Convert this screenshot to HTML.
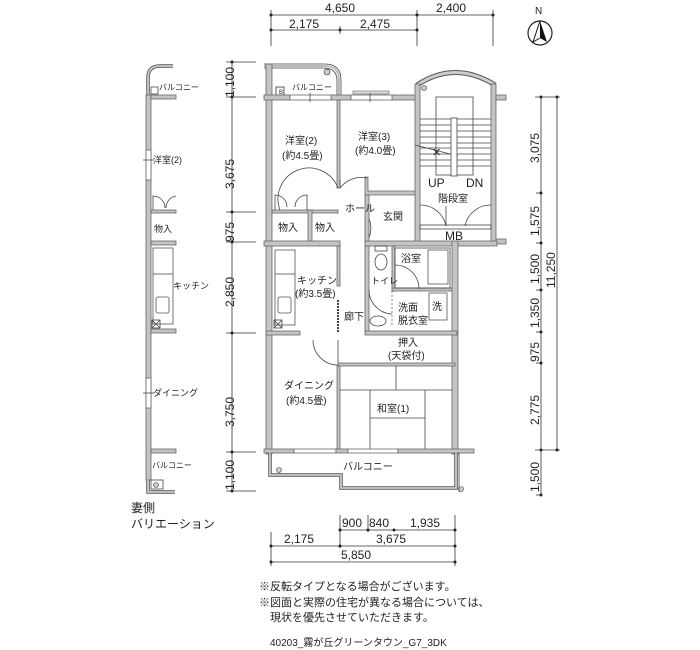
<!DOCTYPE html>
<html><head><meta charset="utf-8"><style>
html,body{margin:0;padding:0;background:#fff}
svg{display:block}
text{font-family:"Liberation Sans","Noto Sans CJK JP",sans-serif;fill:#222}
.w{fill:#c4c4c4;stroke:#666;stroke-width:0.8}
.l{stroke:#444;stroke-width:0.8;fill:none}
.d{stroke:#333;stroke-width:0.8;fill:none}
.j{font-size:10px}
.n{font-size:12px}
</style></head><body>
<svg width="700" height="650" viewBox="0 0 700 650" xmlns="http://www.w3.org/2000/svg">
<!-- top dims -->
<g class="d">
<line x1="271" y1="15" x2="493" y2="15"/><line x1="271" y1="30" x2="417" y2="30"/>
<line x1="271" y1="10" x2="271" y2="46"/><line x1="340" y1="26" x2="340" y2="34"/>
<line x1="417" y1="10" x2="417" y2="46"/><line x1="493" y1="10" x2="493" y2="46"/>
</g>
<g fill="#222"><circle cx="271" cy="15" r="1.5"/><circle cx="417" cy="15" r="1.5"/><circle cx="493" cy="15" r="1.5"/>
<circle cx="271" cy="30" r="1.5"/><circle cx="340" cy="30" r="1.5"/><circle cx="417" cy="30" r="1.5"/></g>
<text class="n" x="325" y="12">4,650</text><text class="n" x="436" y="12">2,400</text>
<text class="n" x="289" y="28">2,175</text><text class="n" x="360" y="28">2,475</text>
<!-- compass -->
<circle cx="540" cy="33" r="12" fill="none" stroke="#222" stroke-width="1.2"/>
<path d="M540 21 L547 42 L540 38 Z" fill="#111"/><path d="M540 21 L533 42 L540 38" fill="none" stroke="#111"/>
<text x="535" y="14" style="font-size:10px">N</text>

<!-- left dims -->
<g class="d"><line x1="232" y1="62" x2="232" y2="491"/>
<line x1="226" y1="62" x2="256" y2="62"/><line x1="226" y1="97" x2="256" y2="97"/><line x1="226" y1="212" x2="256" y2="212"/>
<line x1="226" y1="242" x2="256" y2="242"/><line x1="226" y1="333" x2="256" y2="333"/><line x1="226" y1="452" x2="256" y2="452"/><line x1="226" y1="491" x2="256" y2="491"/></g>
<g fill="#222"><circle cx="232" cy="62" r="1.5"/><circle cx="232" cy="97" r="1.5"/><circle cx="232" cy="212" r="1.5"/><circle cx="232" cy="242" r="1.5"/><circle cx="232" cy="333" r="1.5"/><circle cx="232" cy="452" r="1.5"/><circle cx="232" cy="491" r="1.5"/></g>
<g class="n">
<text transform="translate(234,97) rotate(-90)">1,100</text>
<text transform="translate(234,189) rotate(-90)">3,675</text>
<text transform="translate(234,242) rotate(-90)">975</text>
<text transform="translate(234,307) rotate(-90)">2,850</text>
<text transform="translate(234,427) rotate(-90)">3,750</text>
<text transform="translate(234,490) rotate(-90)">1,100</text>
</g>

<!-- right dims -->
<g class="d"><line x1="541" y1="97" x2="541" y2="495"/><line x1="557" y1="97" x2="557" y2="450"/>
<line x1="535" y1="97" x2="560" y2="97"/><line x1="535" y1="450" x2="560" y2="450"/>
<line x1="536" y1="193" x2="541" y2="193"/><line x1="536" y1="243" x2="541" y2="243"/><line x1="536" y1="290" x2="541" y2="290"/>
<line x1="536" y1="332" x2="541" y2="332"/><line x1="536" y1="363" x2="541" y2="363"/><line x1="536" y1="495" x2="541" y2="495"/></g>
<g fill="#222"><circle cx="541" cy="97" r="1.5"/><circle cx="557" cy="97" r="1.5"/><circle cx="541" cy="193" r="1.5"/><circle cx="541" cy="243" r="1.5"/><circle cx="541" cy="290" r="1.5"/><circle cx="541" cy="332" r="1.5"/><circle cx="541" cy="363" r="1.5"/><circle cx="541" cy="450" r="1.5"/><circle cx="557" cy="450" r="1.5"/><circle cx="541" cy="495" r="1.5"/></g>
<g class="n">
<text transform="translate(539,163) rotate(-90)">3,075</text>
<text transform="translate(539,236) rotate(-90)">1,575</text>
<text transform="translate(539,284) rotate(-90)">1,500</text>
<text transform="translate(555,288) rotate(-90)">11,250</text>
<text transform="translate(539,328) rotate(-90)">1,350</text>
<text transform="translate(539,362) rotate(-90)">975</text>
<text transform="translate(539,425) rotate(-90)">2,775</text>
<text transform="translate(539,492) rotate(-90)">1,500</text>
</g>

<!-- MAIN PLAN walls -->
<!-- top balcony -->
<path d="M264 64 H325 Q341 64 341 80 V97 M264 68 H324 Q337 68 337 81 V97" class="l" stroke-width="1.2"/>
<path d="M264 66 H325 Q339 66 339 80 V97" fill="none" stroke="#bbb" stroke-width="2"/>
<rect x="276" y="87" width="8" height="8" fill="#fff" stroke="#333" stroke-width="0.8"/>
<text x="279" y="94" style="font-size:6px">B</text>
<circle cx="327" cy="72" r="3" fill="#ccc" stroke="#444" stroke-width="0.7"/>
<text class="j" x="292" y="90" style="font-size:8px">バルコニー</text>
<rect class="w" x="266" y="64" width="6" height="390"/>
<!-- wall y97 -->
<rect class="w" x="264" y="95" width="26" height="5"/>
<rect x="290" y="95" width="42" height="5" fill="#fff" stroke="#666" stroke-width="0.8"/>
<line class="l" x1="310" y1="93" x2="310" y2="102"/>
<rect class="w" x="331" y="95" width="20" height="5"/>
<rect x="351" y="95" width="42" height="5" fill="#fff" stroke="#666" stroke-width="0.8"/>
<rect x="353" y="91" width="36" height="3" fill="#ddd" stroke="#666" stroke-width="0.6"/>
<line class="l" x1="370" y1="93" x2="370" y2="102"/>
<rect class="w" x="392" y="95" width="25" height="5"/>
<!-- partition 2/3 -->
<rect class="w" x="337" y="100" width="3" height="88"/>
<!-- 洋室3 bottom -->
<path class="w" d="M365 177 h3 v14 h48 v4 h-51 z"/>
<path class="l" d="M340 188 A27 27 0 0 1 367 178"/><line class="l" x1="340" y1="188" x2="340" y2="180"/>
<!-- stair block -->
<path d="M417 85 Q455 60 495 85" fill="none" stroke="#555" stroke-width="5"/>
<path d="M417 85 Q455 60 495 85" fill="none" stroke="#ccc" stroke-width="3"/>
<rect class="w" x="415" y="84" width="5" height="160"/>
<rect class="w" x="491" y="84" width="5" height="160"/>
<rect class="w" x="496" y="95" width="10" height="5"/>
<rect class="w" x="496" y="239" width="10" height="5"/>
<circle cx="424" cy="88" r="2.5" fill="#ccc" stroke="#444" stroke-width="0.6"/>
<rect class="l" x="436" y="97" width="37" height="78"/>
<g class="l">
<line x1="420" y1="119" x2="491" y2="119"/><line x1="420" y1="125" x2="491" y2="125"/><line x1="420" y1="131" x2="491" y2="131"/>
<line x1="420" y1="137" x2="491" y2="137"/><line x1="420" y1="143" x2="491" y2="143"/><line x1="420" y1="148" x2="491" y2="148"/>
<line x1="420" y1="154" x2="491" y2="154"/><line x1="420" y1="160" x2="491" y2="160"/><line x1="420" y1="166" x2="491" y2="166"/>
<line x1="415" y1="145" x2="458" y2="156"/>
</g>
<rect x="451" y="118" width="6" height="58" fill="#fff" stroke="#444" stroke-width="0.8"/>
<text x="432" y="156" style="font-size:11px">✕</text>
<text class="n" x="428" y="187">UP</text><text class="n" x="466" y="187">DN</text>
<text class="j" x="438" y="202">階段室</text>
<path class="l" d="M420 205 A26 26 0 0 1 446 226 V206"/>
<path class="l" d="M491 205 A26 26 0 0 0 465 226"/>
<rect class="l" x="420" y="225" width="71" height="4"/>
<text class="n" x="445" y="240">MB</text>
<!-- closets -->
<rect class="w" x="272" y="210" width="66" height="3"/>
<rect class="w" x="308" y="210" width="4" height="34"/>
<path class="l" d="M275 210 V195 A12 12 0 0 1 287 207 M307 210 V195 A12 12 0 0 0 295 207"/>
<path class="l" d="M280 210 A26 26 0 0 1 338 188"/>
<path class="l" d="M366 213 A26 26 0 0 1 368 240"/>
<!-- 玄関 -->
<rect class="w" x="365" y="195" width="4" height="48"/>
<!-- wall y243 -->
<rect class="w" x="264" y="241" width="76" height="5"/>
<rect class="w" x="365" y="241" width="132" height="5"/>
<!-- corridor wall -->
<rect class="w" x="337" y="246" width="3" height="40"/>
<line x1="338" y1="300" x2="338" y2="333" stroke="#444" stroke-width="2" stroke-dasharray="2 1"/>
<rect class="w" x="266" y="331" width="34" height="4"/>
<rect x="275" y="250" width="20" height="75" fill="#fff" stroke="#555" stroke-width="0.8"/>
<line class="l" x1="275" y1="274" x2="295" y2="274"/>
<rect x="278" y="297" width="13" height="16" rx="2" fill="#fff" stroke="#555" stroke-width="0.8"/>
<rect class="l" x="274" y="320" width="8" height="8"/><path class="l" d="M274 320 L282 328 M282 320 L274 328"/>
<path class="l" d="M313 340 A25 25 0 0 0 338 365 V340"/>
<!-- toilet block -->
<rect class="w" x="365" y="246" width="4" height="88"/>
<rect class="w" x="392" y="246" width="3" height="45"/>
<rect class="w" x="392" y="288" width="62" height="3"/>
<rect class="w" x="452" y="241" width="6" height="213"/>
<rect class="l" x="395" y="248" width="55" height="40"/>
<rect x="428" y="250" width="20" height="34" fill="#fff" stroke="#555" stroke-width="0.8"/>
<path class="l" d="M395 265 A24 24 0 0 1 419 289"/>
<ellipse class="l" cx="381" cy="262" rx="6" ry="8"/><rect class="l" x="375" y="246" width="12" height="5"/>
<path class="l" d="M369 290 A24 24 0 0 0 392 314"/>
<line x1="392" y1="291" x2="392" y2="325" stroke="#555" stroke-width="0.7" stroke-dasharray="2 2"/>
<rect x="429" y="293" width="18" height="27" fill="#fff" stroke="#555" stroke-width="0.8"/>
<ellipse class="l" cx="378" cy="321" rx="8" ry="5"/>
<rect class="w" x="365" y="331" width="92" height="4"/>
<rect class="w" x="338" y="363" width="117" height="3"/>
<!-- washitsu -->
<rect class="w" x="337" y="366" width="3" height="85"/>
<g class="l"><line x1="340" y1="390" x2="452" y2="390"/><line x1="396" y1="366" x2="396" y2="390"/>
<line x1="370" y1="390" x2="370" y2="450"/><line x1="425" y1="390" x2="425" y2="450"/><line x1="370" y1="418" x2="425" y2="418"/></g>
<!-- wall y450 -->
<rect class="w" x="264" y="449" width="30" height="4"/>
<rect x="294" y="449" width="42" height="4" fill="#fff" stroke="#666" stroke-width="0.8"/>
<rect class="w" x="336" y="449" width="12" height="4"/>
<rect x="348" y="449" width="50" height="4" fill="#fff" stroke="#666" stroke-width="0.8"/>
<rect class="w" x="398" y="449" width="76" height="4"/>
<!-- bottom balcony -->
<path d="M270 453 V475 H341 V488 H456 V453" fill="none" stroke="#555" stroke-width="3.5"/>
<path d="M270 453 V475 H341 V488 H456 V453" fill="none" stroke="#ccc" stroke-width="1.8"/>
<circle cx="279" cy="470" r="2.5" fill="#ccc" stroke="#444" stroke-width="0.6"/>
<circle cx="461" cy="489" r="2.5" fill="#ccc" stroke="#444" stroke-width="0.6"/>
<line class="l" x1="459" y1="453" x2="459" y2="492"/>

<!-- labels -->
<g class="j">
<text x="285" y="144">洋室(2)</text><text x="282" y="159">(約4.5畳)</text>
<text x="358" y="140">洋室(3)</text><text x="355" y="154">(約4.0畳)</text>
<text x="345" y="212">ホール</text><text x="383" y="220">玄関</text>
<text x="278" y="231">物入</text><text x="315" y="231">物入</text>
<text x="297" y="284">キッチン</text><text x="295" y="297">(約3.5畳)</text>
<text x="344" y="320">廊下</text>
<text x="371" y="284" style="font-size:9px">トイレ</text>
<text x="401" y="262">浴室</text>
<text x="398" y="311">洗面</text><text x="398" y="324">脱衣室</text><text x="432" y="310">洗</text>
<text x="398" y="346">押入</text><text x="388" y="359">(天袋付)</text>
<text x="284" y="389">ダイニング</text><text x="286" y="404">(約4.5畳)</text>
<text x="377" y="412">和室(1)</text>
<text x="343" y="470">バルコニー</text>
</g>

<!-- LEFT STRIP -->
<path d="M148 97 V78 Q148 66 160 66 H173" fill="none" stroke="#555" stroke-width="3.5"/>
<path d="M148 97 V78 Q148 66 160 66 H173" fill="none" stroke="#ccc" stroke-width="1.8"/>
<rect class="w" x="146" y="95" width="5" height="385"/>
<rect x="146" y="150" width="5" height="30" fill="#fff" stroke="#666" stroke-width="0.8"/>
<rect x="146" y="378" width="5" height="30" fill="#fff" stroke="#666" stroke-width="0.8"/>
<line class="l" x1="143" y1="160" x2="154" y2="160"/><line class="l" x1="143" y1="393" x2="154" y2="393"/>
<rect class="w" x="151" y="95" width="25" height="4"/>
<rect x="151" y="87" width="7" height="7" fill="#fff" stroke="#333" stroke-width="0.7"/>
<rect class="w" x="151" y="210" width="25" height="3"/>
<path class="l" d="M153 210 V196 A12 12 0 0 1 165 208 M176 196 A12 12 0 0 0 166 208"/>
<rect class="w" x="151" y="241" width="25" height="4"/>
<rect x="153" y="248" width="20" height="76" fill="#fff" stroke="#555" stroke-width="0.8"/>
<line class="l" x1="153" y1="274" x2="173" y2="274"/>
<rect x="156" y="297" width="13" height="16" rx="2" fill="#fff" stroke="#555" stroke-width="0.8"/>
<rect class="l" x="152" y="320" width="8" height="8"/><path class="l" d="M152 320 L160 328 M160 320 L152 328"/>
<rect class="w" x="151" y="329" width="25" height="4"/>
<rect class="w" x="151" y="449" width="25" height="4"/>
<path d="M148 480 V492 H175" fill="none" stroke="#555" stroke-width="3.5"/>
<path d="M148 480 V492 H175" fill="none" stroke="#ccc" stroke-width="1.8"/>
<rect class="l" x="151" y="480" width="12" height="9"/><circle cx="156" cy="485" r="2.5" fill="#ccc" stroke="#444" stroke-width="0.6"/>
<g class="j" style="font-size:9px">
<text x="159" y="90" style="font-size:8px">バルコニー</text>
<text x="153" y="163">洋室(2)</text>
<text x="154" y="232">物入</text>
<text x="173" y="289">キッチン</text>
<text x="153" y="396">ダイニング</text>
<text x="152" y="468" style="font-size:8px">バルコニー</text>
</g>
<text x="131" y="512" style="font-size:12px">妻側</text>
<text x="131" y="528" style="font-size:12px">バリエーション</text>

<!-- bottom dims -->
<g class="d">
<line x1="340" y1="530" x2="455" y2="530"/><line x1="271" y1="546" x2="455" y2="546"/><line x1="271" y1="562" x2="455" y2="562"/>
<line x1="340" y1="515" x2="340" y2="548"/><line x1="368" y1="515" x2="368" y2="532"/>
<line x1="455" y1="515" x2="455" y2="566"/><line x1="271" y1="532" x2="271" y2="566"/>
</g>
<g fill="#222"><circle cx="340" cy="530" r="1.5"/><circle cx="368" cy="530" r="1.5"/><circle cx="394" cy="530" r="1.5"/><circle cx="455" cy="530" r="1.5"/>
<circle cx="271" cy="546" r="1.5"/><circle cx="340" cy="546" r="1.5"/><circle cx="455" cy="546" r="1.5"/><circle cx="271" cy="562" r="1.5"/><circle cx="455" cy="562" r="1.5"/></g>
<g class="n">
<text x="342" y="527">900</text><text x="369" y="527">840</text><text x="410" y="527">1,935</text>
<text x="284" y="543">2,175</text><text x="376" y="543">3,675</text><text x="341" y="559">5,850</text>
</g>
<g style="font-size:11px">
<text x="259" y="590">※反転タイプとなる場合がございます。</text>
<text x="259" y="606">※図面と実際の住宅が異なる場合については、</text>
<text x="270" y="621">現状を優先させていただきます。</text>
<text x="270" y="646" style="font-size:10px">40203_霧が丘グリーンタウン_G7_3DK</text>
</g>
</svg>
</body></html>
